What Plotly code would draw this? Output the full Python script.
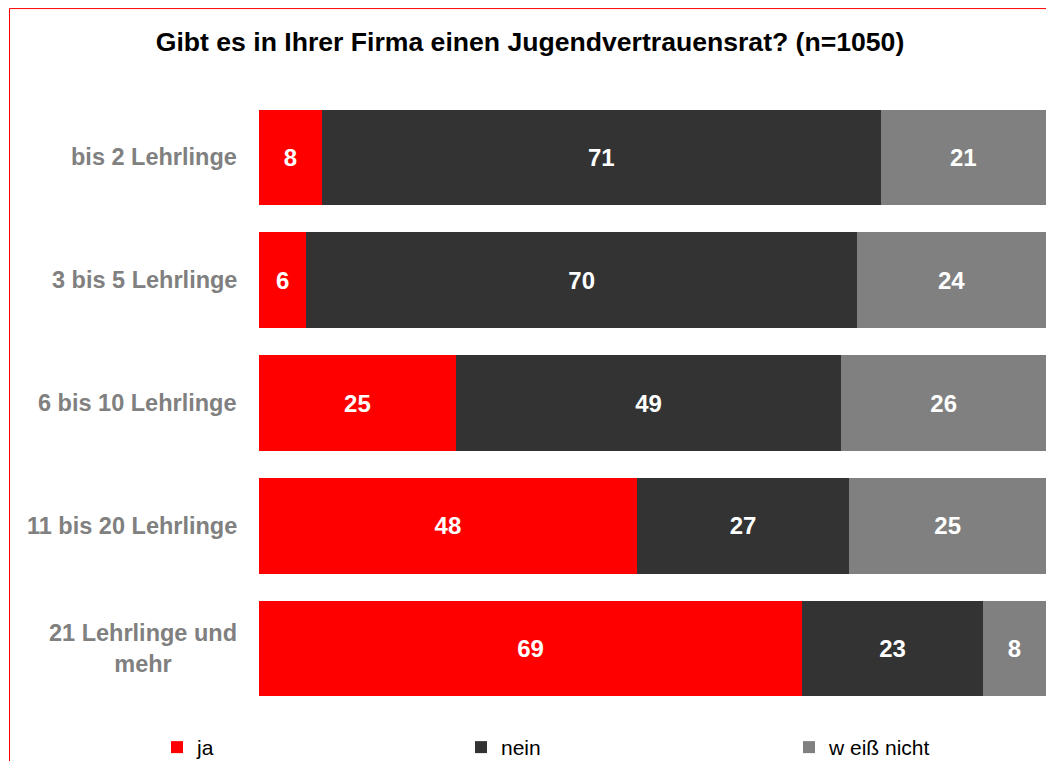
import plotly.graph_objects as go

categories = ["bis 2 Lehrlinge", "3 bis 5 Lehrlinge", "6 bis 10 Lehrlinge",
              "11 bis 20 Lehrlinge", "21 Lehrlinge und<br>mehr"]
ja = [8, 6, 25, 48, 69]
nein = [71, 70, 49, 27, 23]
weiss = [21, 24, 26, 25, 8]
series_names = ["ja", "nein", "w eiß nicht"]
colors = ["#FF0000", "#333333", "#808080"]
title_text = "Gibt es in Ihrer Firma einen Jugendvertrauensrat? (n=1050)"

# page body has an 8px margin; figure offset by it
OFF = 8
W, H = 1054 - 2 * OFF, 761
ml, mr, mt = 251, 0, 88
mb = H - 702.5
pw, ph = W - ml - mr, H - mt - mb

def px_x(sx):
    return (sx - OFF - ml) / pw

def px_y(sy):
    return (H - mb - (sy - OFF)) / ph

fig = go.Figure()
legend_ids = ["legend", "legend2", "legend3"]
for name, vals, col, lid in zip(series_names, [ja, nein, weiss], colors, legend_ids):
    fig.add_trace(go.Bar(
        y=categories, x=vals, name=name, orientation="h", legend=lid,
        marker=dict(color=col, line=dict(width=0)),
        text=[str(v) for v in vals], textposition="inside",
        insidetextanchor="middle", textangle=0,
        textfont=dict(color="white", size=24, family="Liberation Sans", weight="bold"),
        hoverinfo="skip",
    ))

for c in categories:
    fig.add_annotation(
        x=px_x(239), xref="paper", y=c, yref="y", text=c, showarrow=False,
        xanchor="right", yanchor="middle", align="center",
        font=dict(color="#808080", size=23.5, family="Liberation Sans", weight="bold"),
    )

fig.add_shape(type="rect", xref="paper", yref="paper",
              x0=px_x(9.5), x1=px_x(1080), y0=px_y(800), y1=px_y(OFF + 0.5),
              line=dict(color="#FF0000", width=1), fillcolor="rgba(0,0,0,0)")

legend_common = dict(orientation="h", xanchor="left", yanchor="middle",
                     y=px_y(748), bgcolor="rgba(0,0,0,0)",
                     font=dict(size=21, color="black", family="Liberation Sans"))
text_left = [199, 503, 831]

fig.update_layout(
    width=W, height=H,
    margin=dict(l=ml, r=mr, t=mt, b=mb),
    barmode="stack", bargap=0.22,
    paper_bgcolor="white", plot_bgcolor="white",
    title=dict(text=title_text, x=(530 - OFF) / W, xref="container", xanchor="center",
               y=1 - (42 - OFF) / H, yref="container", yanchor="middle",
               font=dict(size=26.6, color="black", family="Liberation Sans", weight="bold")),
    xaxis=dict(range=[0, 100], visible=False, fixedrange=True),
    yaxis=dict(autorange="reversed", showticklabels=False, showgrid=False,
               zeroline=False, showline=False, ticks=""),
    showlegend=True,
    legend=dict(x=px_x(text_left[0] - 42), **legend_common),
    legend2=dict(x=px_x(text_left[1] - 42), **legend_common),
    legend3=dict(x=px_x(text_left[2] - 42), **legend_common),
)

fig.write_html("out.html")
